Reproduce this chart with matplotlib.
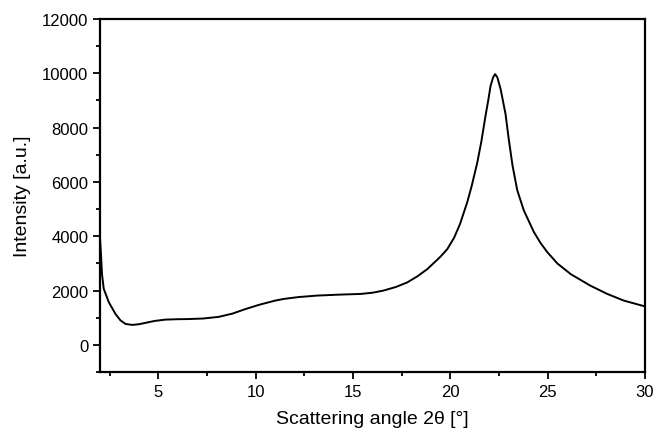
import numpy as np
import matplotlib.pyplot as plt
from matplotlib.ticker import MultipleLocator

# curve values
angle = [2.0, 2.05, 2.1, 2.19, 2.45, 2.79, 3.05, 3.31, 3.65, 4.0, 4.33, 4.8, 5.36, 6.0, 6.55,
         7.3, 8.09, 8.8, 9.48, 10.2, 11.0, 11.43, 12.2, 13.16, 14.3, 15.39, 16.0, 16.57,
         17.2, 17.79, 18.3, 18.82, 19.16, 19.5, 19.85, 20.2, 20.5, 20.87, 21.1, 21.39,
         21.6, 21.81, 21.95, 22.07, 22.2, 22.3, 22.42, 22.59, 22.84, 23.0, 23.2,
         23.44, 23.78, 24.3, 24.64, 24.98, 25.5, 26.2, 27.2, 28.07, 28.92, 29.86, 30.0]
intensity = [3900, 3300, 2600, 2060, 1570, 1140, 900, 770, 735, 760, 810, 880, 930, 945, 950,
             970, 1030, 1150, 1320, 1480, 1630, 1690, 1760, 1815, 1850, 1875, 1920, 2000,
             2130, 2300, 2520, 2790, 3020, 3250, 3530, 3950, 4450, 5250, 5850, 6720,
             7500, 8430, 9000, 9530, 9850, 9970, 9850, 9410, 8500, 7600, 6600,
             5700, 4950, 4150, 3750, 3420, 3000, 2600, 2180, 1875, 1630, 1445, 1420]

plt.rcParams['font.family'] = 'Liberation Sans'

fig = plt.figure(figsize=(6.54, 4.35), dpi=100)
ax = fig.add_axes([0.153, 0.1425, 0.833, 0.8115])
ax.plot(angle, intensity, color='black', linewidth=1.4)

ax.set_xlim(2, 30)
ax.set_ylim(-1000, 12000)
ax.xaxis.set_major_locator(MultipleLocator(5))
ax.xaxis.set_minor_locator(MultipleLocator(2.5))
ax.yaxis.set_major_locator(MultipleLocator(2000))
ax.yaxis.set_minor_locator(MultipleLocator(1000))
ax.tick_params(which='major', direction='out', length=5, width=1.3, labelsize=12)
ax.tick_params(which='minor', direction='out', length=3, width=1.3)
for s in ax.spines.values():
    s.set_linewidth(1.6)

ax.set_xlabel('Scattering angle 2\u03b8 [\u00b0]', fontsize=14, labelpad=8)
ax.set_ylabel('Intensity [a.u.]', fontsize=14, labelpad=8)

fig.savefig('out.png', dpi=100)
